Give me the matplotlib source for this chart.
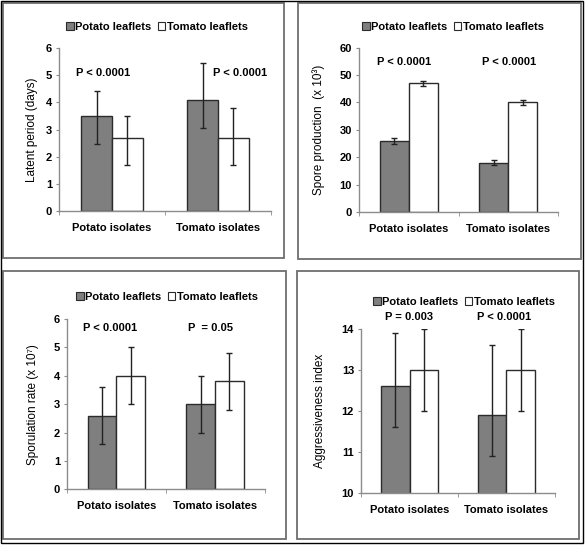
import numpy as np
import matplotlib
matplotlib.use("Agg")
import matplotlib.pyplot as plt
from matplotlib.patches import Rectangle

plt.rcParams['font.family'] = ['Liberation Sans', 'DejaVu Sans']

# ---------------- data ----------------
categories = ['Potato isolates', 'Tomato isolates']
series_names = ['Potato leaflets', 'Tomato leaflets']

latent_potato = [3.5, 4.1]
latent_potato_err_lo = [1.05, 1.05]
latent_potato_err_hi = [0.9, 1.35]
latent_tomato = [2.7, 2.7]
latent_tomato_err_lo = [1.0, 1.0]
latent_tomato_err_hi = [0.8, 1.1]
latent_p = ['P < 0.0001', 'P < 0.0001']

spore_potato = [26, 18]
spore_potato_err = [1.0, 1.0]
spore_tomato = [47, 40]
spore_tomato_err = [1.0, 1.0]
spore_p = ['P < 0.0001', 'P < 0.0001']

sporul_potato = [2.6, 3.0]
sporul_potato_err = [1.0, 1.0]
sporul_tomato = [4.0, 3.8]
sporul_tomato_err = [1.0, 1.0]
sporul_p = ['P < 0.0001', 'P  = 0.05']

aggr_potato = [12.6, 11.9]
aggr_potato_err_lo = [1.0, 1.0]
aggr_potato_err_hi = [1.3, 1.7]
aggr_tomato = [13.0, 13.0]
aggr_tomato_err = [1.0, 1.0]
aggr_p = ['P = 0.003', 'P < 0.0001']

# ---------------- layout ----------------
W, H = 588, 551
fig = plt.figure(figsize=(W / 100, H / 100), dpi=100)
fig.patch.set_facecolor('white')

def px_axes(l, r, t, b):
    return fig.add_axes([l / W, 1 - b / H, (r - l) / W, (b - t) / H])

def fx(x):
    return x / W

def fy(y):
    return 1 - y / H

DARK = '#7f7f7f'
EDGE = '#2b2b2b'
SPINE = '#8c8c8c'
BW = 0.29

def panel(ax, pot, pot_err, tom, tom_err, ylim, yticks, ylabel, label_x,
          pvals, ppos, legend_pos):
    x = np.arange(len(categories))
    ekw = dict(ecolor='#222222', elinewidth=1.0, capsize=2.2, capthick=1.0)
    b1 = ax.bar(x - BW / 2, pot, BW, color=DARK, edgecolor=EDGE, linewidth=1.0,
                yerr=pot_err, error_kw=ekw, label=series_names[0], zorder=2)
    b2 = ax.bar(x + BW / 2, tom, BW, color='white', edgecolor=EDGE, linewidth=1.0,
                yerr=tom_err, error_kw=ekw, label=series_names[1], zorder=2)
    ax.set_xlim(-0.5, len(categories) - 0.5)
    ax.set_ylim(*ylim)
    ax.set_yticks(yticks)
    ax.set_yticklabels([str(v) for v in yticks], fontsize=8, fontweight='bold')
    ax.set_xticks(x)
    ax.set_xticklabels(categories, fontsize=8, fontweight='bold')
    ax.set_xticks(np.arange(len(categories) + 1) - 0.5, minor=True)
    ax.tick_params(axis='x', which='major', length=0, pad=8.5)
    ax.tick_params(axis='x', which='minor', length=3, direction='out', color=SPINE)
    ax.tick_params(axis='y', length=2.5, direction='out', color=SPINE, pad=2.5)
    for s in ['top', 'right']:
        ax.spines[s].set_visible(False)
    for s in ['left', 'bottom']:
        ax.spines[s].set_color(SPINE)
        ax.spines[s].set_linewidth(1.0)
    ax.set_ylabel(ylabel, fontsize=8.5)
    ax.yaxis.set_label_coords(label_x, 0.5)
    for txt, (px, py) in zip(pvals, ppos):
        fig.text(fx(px), fy(py), txt, fontsize=8, fontweight='bold',
                 ha='center', va='center')
    leg = ax.legend(handles=[b1, b2], loc='center',
                    bbox_to_anchor=(fx(legend_pos[0]), fy(legend_pos[1])),
                    bbox_transform=fig.transFigure, ncol=2, frameon=False,
                    handlelength=0.7, handleheight=0.7, handletextpad=0.15,
                    columnspacing=0.55, borderpad=0,
                    prop={'size': 8, 'weight': 'bold'})
    for h in leg.legend_handles:
        h.set_linewidth(0.8)

ax1 = px_axes(59, 271, 48, 211)
panel(ax1, latent_potato, [latent_potato_err_lo, latent_potato_err_hi],
      latent_tomato, [latent_tomato_err_lo, latent_tomato_err_hi],
      (0, 6), list(range(0, 7)), 'Latent period (days)', -0.097,
      latent_p, [(103, 73), (240, 73)], (157, 27))

ax2 = px_axes(359, 558, 47.7, 212)
panel(ax2, spore_potato, spore_potato_err, spore_tomato, spore_tomato_err,
      (0, 60), list(range(0, 61, 10)), 'Spore production  (x 10\u00b3)', -0.173,
      spore_p, [(404, 62), (509, 62)], (453, 27))

ax3 = px_axes(67, 264.5, 319, 489.3)
panel(ax3, sporul_potato, sporul_potato_err, sporul_tomato, sporul_tomato_err,
      (0, 6), list(range(0, 7)), 'Sporulation rate (x 10\u2077)', -0.144,
      sporul_p, [(110, 328), (210, 328)], (167, 297))

ax4 = px_axes(361, 555, 329, 493)
panel(ax4, aggr_potato, [aggr_potato_err_lo, aggr_potato_err_hi],
      aggr_tomato, aggr_tomato_err,
      (10, 14), list(range(10, 15)), 'Aggressiveness index', -0.178,
      aggr_p, [(409, 317), (504, 317)], (464, 302))

# panel frames
for (l, t, r, b) in [(3, 3, 284, 258), (298, 3, 581, 259),
                     (3, 271, 286, 539), (297, 271, 579, 539)]:
    fig.add_artist(Rectangle((fx(l), fy(b)), (r - l) / W, (b - t) / H,
                             transform=fig.transFigure, fill=False,
                             edgecolor='#6e6e6e', linewidth=1.3))
# outer frame
fig.add_artist(Rectangle((fx(1), fy(543)), (583 - 1) / W, (543 - 1) / H,
                         transform=fig.transFigure, fill=False,
                         edgecolor='black', linewidth=1.0))

fig.savefig('out.png', dpi=100)
